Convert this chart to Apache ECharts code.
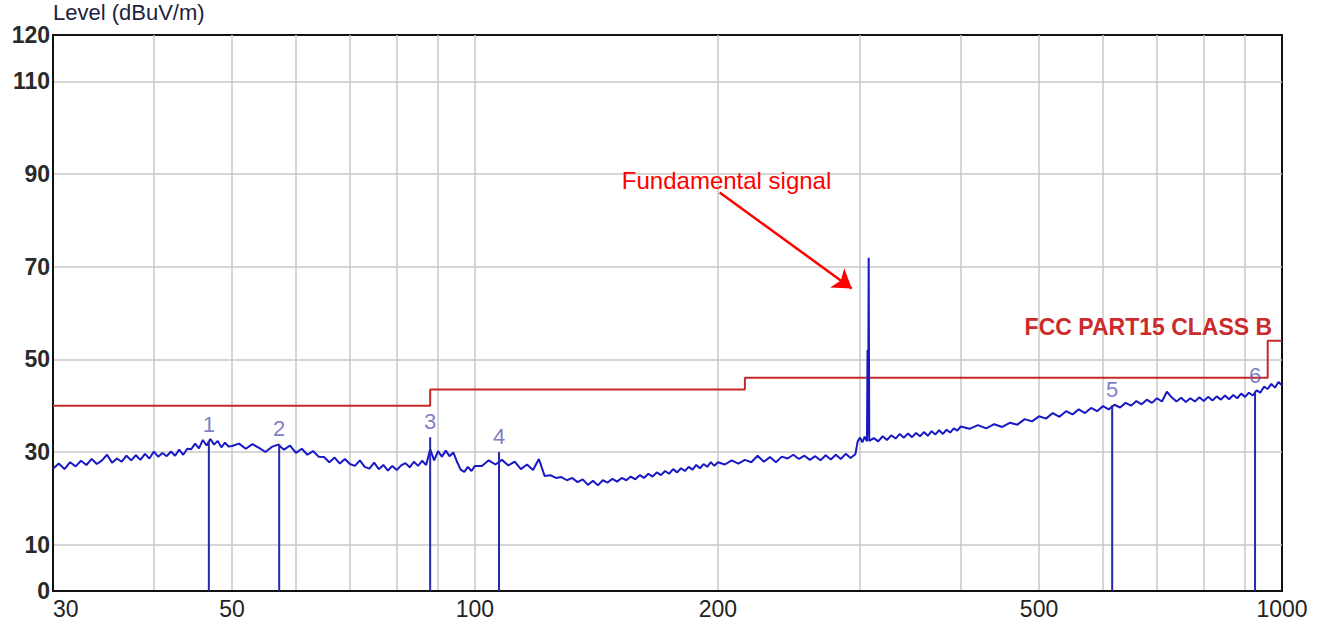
<!DOCTYPE html>
<html>
<head>
<meta charset="utf-8">
<script src="https://cdn.jsdelivr.net/npm/echarts@6/dist/echarts.min.js"></script>
<style>
html,body{margin:0;padding:0;background:#fff;}
#chart{width:1317px;height:629px;}
</style>
</head>
<body>
<div id="chart"></div>
<script>
// ---- Data ----
const traceFreq = [
  30,30.5,31,31.5,32,32.5,33,33.5,34,34.5,35,35.5,36,36.5,37,37.5,38,38.5,39,39.5,
  40,40.5,41,41.5,42,42.5,43,43.5,44,44.5,45,45.5,46,46.5,47,47.5,48,48.5,49,49.5,50,
  51,52,53,54,55,56,57,58,59,60,61,62,63,64,65,66,67,68,69,70,
  71,72,73,74,75,76,77,78,79,80,81,82,83,84,85,86,87,88,89,90,
  91,92,93,94,95,96,97,98,99,100,
  102,104,106,108,110,112,114,116,118,120,122,124,126,128,130,132,134,136,138,140,
  142,144,146,148,150,152,154,156,158,160,162,164,166,168,170,172,174,176,178,180,
  182,184,186,188,190,192,194,196,198,200,
  204,208,212,216,220,224,228,232,236,240,244,248,252,256,260,264,268,272,276,280,
  284,288,292,296,
  298,300,302,304,306,306.5,307,307.5,308,
  312,316,320,324,328,332,336,340,344,348,352,356,360,364,368,372,376,380,384,388,
  392,396,400,
  410,420,430,440,450,460,470,480,490,500,510,520,530,540,550,560,570,580,590,600,
  610,620,630,640,650,660,670,680,690,700,710,720,730,740,750,760,770,780,790,800,
  810,820,830,840,850,860,870,880,890,900,910,920,930,940,950,960,970,980,990,1000
];
const traceLevel = [
  26.4,27.5,26.3,27.8,26.9,28.1,27.2,28.5,27.4,28.2,29.4,27.7,28.6,27.9,29.2,28.2,29.3,28.3,29.6,28.6,
  30.1,29.0,29.8,29.1,30.1,29.2,30.5,29.4,30.7,30.6,31.8,30.8,32.6,31.4,32.8,31.6,32.4,31.0,32.0,31.2,31.3,
  31.8,30.7,31.7,30.9,30.0,31.1,31.6,30.5,31.4,29.8,30.7,29.4,30.2,29.0,28.9,27.8,28.8,27.5,28.5,27.4,
  27.0,28.2,26.8,26.4,27.7,26.3,27.2,26.0,27.0,26.1,27.1,27.6,26.7,27.9,27.0,28.1,27.2,30.6,28.2,30.2,
  29.0,30.3,29.1,29.9,27.9,26.2,25.7,26.8,25.9,27.0,
  27.0,28.2,27.3,28.3,27.1,27.9,26.3,27.3,26.1,28.5,24.8,25.0,24.4,24.6,23.9,24.4,23.5,24.1,22.9,23.8,
  22.8,23.9,23.4,24.2,23.6,24.4,23.9,24.7,24.1,25.0,24.4,25.3,24.7,25.6,25.0,25.9,25.3,26.3,25.6,26.5,
  25.9,26.8,26.2,27.2,26.5,27.4,26.8,27.8,27.0,27.8,
  27.3,28.2,27.5,28.3,27.8,29.2,27.9,28.9,27.8,29.0,28.6,29.4,28.5,29.2,28.3,29.1,28.2,29.3,28.4,29.4,
  28.5,29.6,28.7,29.5,
  32.3,33.1,32.1,33.3,32.3,52.0,33.6,71.9,32.4,
  33.0,32.3,33.4,32.6,33.6,32.9,33.9,33.1,34.0,33.2,34.1,33.4,34.3,33.5,34.5,33.8,34.7,33.9,34.8,34.2,
  35.1,34.6,35.5,
  35.0,35.8,35.1,36.0,35.4,36.3,35.9,37.1,36.6,37.7,37.2,38.4,37.6,38.8,38.1,39.2,38.4,39.5,38.8,39.9,
  39.2,40.2,39.6,40.6,40.0,41.0,40.3,41.3,40.6,41.6,40.9,43.0,41.8,40.9,41.7,40.8,41.6,40.9,41.8,41.0,
  41.9,41.1,42.0,41.3,42.2,41.4,42.3,41.6,42.6,41.9,42.8,42.2,43.3,42.8,44.1,43.6,44.7,43.9,45.1,44.4
];
const limitFreq  = [30, 88, 88, 216, 216, 960, 960, 1000];
const limitLevel = [40, 40, 43.5, 43.5, 46, 46, 54, 54];
const markerNames  = ['1','2','3','4','5','6'];
const markerFreq   = [46.8, 57.2, 88.0, 107.1, 616, 926];
const markerLevel  = [32.4, 31.7, 33.2, 30.0, 40.1, 43.0];
const xLabelValues = [30, 50, 100, 200, 500, 1000];
const xGridValues  = [40, 50, 60, 70, 80, 90, 100, 200, 300, 400, 500, 600, 700, 800, 900];
const yLabelValues = [0, 10, 30, 50, 70, 90, 110, 120];
const yGridValues  = [10, 30, 50, 70, 90, 110];
const limitName = 'FCC PART15 CLASS B';
const annotationText = 'Fundamental signal';
const annotationPos = [205, 88.7];
const arrowStart = [201, 86.0];
const arrowEnd = [293, 65.3];
const limitLabelPos = [683, 57.0];

// ---- Build series data ----
const traceData = traceFreq.map((f, i) => [f, traceLevel[i]]);
const limitData = limitFreq.map((f, i) => [f, limitLevel[i]]);
const markerLineData = [];
markerFreq.forEach((f, i) => {
  markerLineData.push([f, 0], [f, markerLevel[i]], [f, '-']);
});
const markerLabelData = markerFreq.map((f, i) => [f, markerLevel[i], markerNames[i]]);

const FONT = 'Liberation Sans, Arial, sans-serif';
const chart = echarts.init(document.getElementById('chart'), null, {renderer: 'svg'});
chart.setOption({
  animation: false,
  backgroundColor: '#fff',
  grid: {left: 53, right: 35, top: 35, bottom: 38, show: true, borderColor: '#111', borderWidth: 2,
         containLabel: false, outerBoundsMode: 'none'},
  xAxis: {
    type: 'log', logBase: 10, min: 30, max: 1000,
    axisLine: {show: true, lineStyle: {color: '#111', width: 2}},
    axisTick: {show: false, customValues: xGridValues},
    axisLabel: {
      customValues: xLabelValues, fontFamily: FONT, fontSize: 23, color: '#222', margin: 6,
      alignMinLabel: 'left', formatter: v => String(Math.round(v))
    },
    splitLine: {show: true, lineStyle: {color: '#c8c8c8', width: 1.5}},
    minorSplitLine: {show: false}
  },
  yAxis: {
    type: 'value', min: 0, max: 120,
    name: 'Level (dBuV/m)', nameLocation: 'end', nameGap: 6,
    nameTextStyle: {fontFamily: FONT, fontSize: 22, color: '#1c2240', align: 'left', verticalAlign: 'bottom'},
    axisLine: {show: true, lineStyle: {color: '#111', width: 2}},
    axisTick: {show: false, customValues: yGridValues},
    axisLabel: {
      customValues: yLabelValues, fontFamily: FONT, fontSize: 23, fontWeight: 'bold', color: '#2a2a2a', margin: 3,
      formatter: v => String(Math.round(v))
    },
    splitLine: {show: true, lineStyle: {color: '#c8c8c8', width: 1.5}}
  },
  series: [
    {
      name: limitName, type: 'line', data: limitData, symbol: 'none',
      lineStyle: {color: '#c42a2a', width: 2}, z: 3,
      markPoint: {
        symbol: 'circle', symbolSize: 0, silent: true,
        data: [{coord: limitLabelPos, value: limitName}],
        label: {show: true, position: 'inside', formatter: limitName, fontFamily: FONT, fontSize: 23, fontWeight: 'bold', color: '#cc2b2b'}
      }
    },
    {
      name: 'Level', type: 'line', data: traceData, symbol: 'none',
      lineStyle: {color: '#1818c4', width: 2}, z: 4
    },
    {
      name: 'Markers', type: 'line', data: markerLineData, symbol: 'none', connectNulls: false,
      lineStyle: {color: '#2828a8', width: 2}, z: 5
    },
    {
      name: 'Marker labels', type: 'scatter', data: markerLabelData, symbolSize: 0, z: 6,
      label: {show: true, position: 'top', distance: 5, formatter: p => p.data[2], fontFamily: FONT, fontSize: 22, color: '#5c5cb6'}
    },
    {
      name: 'Annotation', type: 'line', data: [], z: 7,
      markPoint: {
        symbol: 'circle', symbolSize: 0, silent: true,
        data: [{coord: annotationPos, value: annotationText}],
        label: {show: true, position: 'inside', formatter: annotationText, fontFamily: FONT, fontSize: 24, color: '#ff0000'}
      },
      markLine: {
        silent: true, symbol: ['none', 'arrow'], symbolSize: 18,
        lineStyle: {color: '#ff0000', width: 2.5, type: 'solid'},
        label: {show: false},
        data: [[{coord: arrowStart}, {coord: arrowEnd}]]
      }
    }
  ]
});
</script>
</body>
</html>
